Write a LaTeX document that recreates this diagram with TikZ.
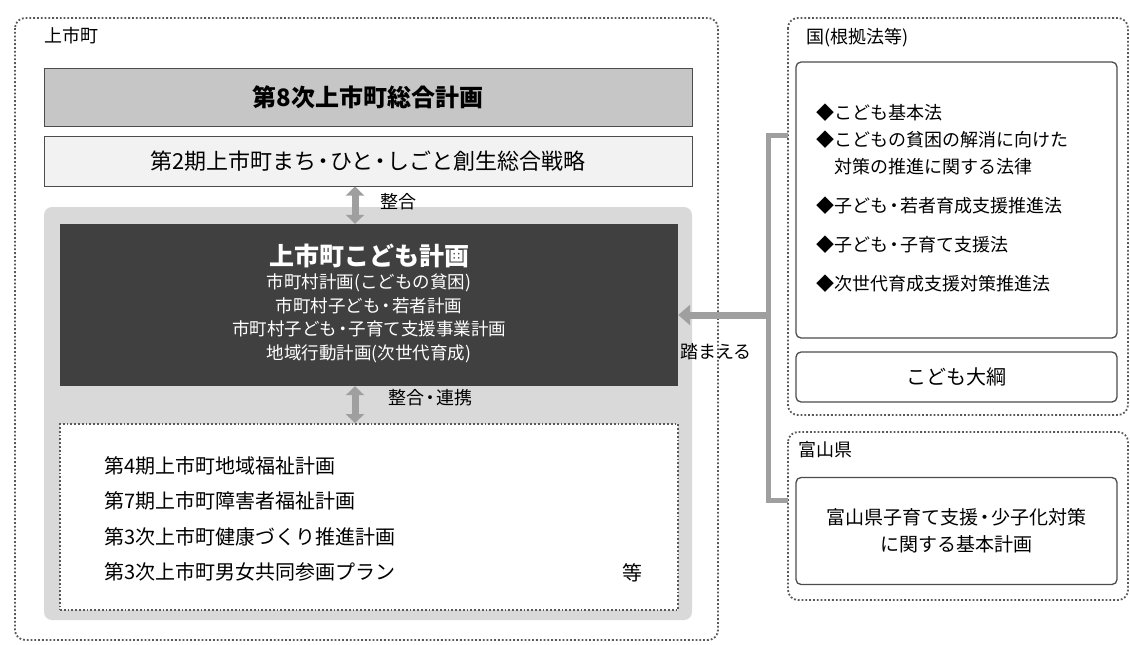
\documentclass[tikz,border=0pt]{standalone}
\usepackage{fontspec}
\setmainfont{Noto Sans CJK JP}
\usetikzlibrary{arrows.meta}
\tikzset{
 dotbox/.style={draw=gray!70!black,dotted,line width=1.8pt,rounded corners=10pt},
 solbox/.style={draw=gray!60!black,line width=1.3pt,rounded corners=5pt,fill=white},
 dbl/.style={draw=gray!75,line width=7pt,{Triangle[length=9pt,width=18pt]}-{Triangle[length=9pt,width=18pt]}},
 lbl/.style={inner sep=0pt,font=\fontsize{18}{20}\selectfont}
}
\begin{document}
\begin{tikzpicture}[x=1pt,y=-1pt]
\useasboundingbox (0,0) rectangle (1130,645);
\draw[dotbox] (15,18) rectangle (718,640);
\node[lbl,anchor=west] (t1) at (44,36) {上市町};
\node[draw=gray!60!black,line width=1pt,fill=gray!45,minimum width=648pt,minimum height=58pt,font=\bfseries\fontsize{24}{26}\selectfont] (b8) at (368,97) {第8次上市町総合計画};
\node[draw=gray!60!black,line width=1pt,fill=gray!10,minimum width=648pt,minimum height=50pt,font=\fontsize{22}{24}\selectfont] (b2) at (368,161) {第2期上市町まち\kern-4pt・\kern-4ptひと\kern-4pt・\kern-4ptしごと創生総合戦略};
\fill[gray!30,rounded corners=8pt] (44,207) rectangle (692,620);
\node[fill=black!75,minimum width=618pt,minimum height=162pt] (dk) at (369,305) {};
\node[text=white,font=\bfseries\fontsize{25}{28}\selectfont,inner sep=0pt] (dt) at (369,256) {上市町こども計画};
\node[text=white,font=\fontsize{17.5}{23.5}\selectfont,align=center,inner sep=0pt,anchor=north] (dl) at (369,274) {市町村計画(こどもの貧困)\\市町村子ども\kern-3pt・\kern-3pt若者計画\\市町村子ども\kern-3pt・\kern-3pt子育て支援事業計画\\地域行動計画(次世代育成)};
\node[draw=gray!70!black,dotted,line width=1.8pt,fill=white,minimum width=618pt,minimum height=186pt] (wb) at (369,517) {};
\node[align=left,anchor=west,font=\fontsize{20}{35.5}\selectfont,inner sep=0pt] (wl) at (104,519) {第4期上市町地域福祉計画\\第7期上市町障害者福祉計画\\第3次上市町健康づくり推進計画\\第3次上市町男女共同参画プラン};
\node[lbl,font=\fontsize{20}{22}\selectfont] (etc) at (632,573) {等};
\draw[dbl] (b2.south -| 355,0) -- (dk.north -| 355,0);
\node[lbl,anchor=west] (s1) at (380,202) {整合};
\draw[dbl] (dk.south -| 355,0) -- (wb.north -| 355,0);
\node[lbl,anchor=west] (s2) at (388,398) {整合\kern-3pt・\kern-3pt連携};
% right
\draw[dotbox] (788,18) rectangle (1128,415);
\node[lbl,anchor=west] (kt) at (806,38) {国(根拠法等)};
\node[solbox,minimum width=321pt,minimum height=276pt] (kb) at (956.5,200) {};
\node[anchor=north west,align=left,inner sep=0pt,font=\fontsize{18}{27}\selectfont] (kl) at (816,104) {◆こども基本法\\◆こどもの貧困の解消に向けた\\\phantom{◆}対策の推進に関する法律\\[12pt]◆子ども\kern-3pt・\kern-3pt若者育成支援推進法\\[12pt]◆子ども\kern-3pt・\kern-3pt子育て支援法\\[12pt]◆次世代育成支援対策推進法};
\node[solbox,minimum width=321pt,minimum height=50pt,font=\fontsize{20}{22}\selectfont] (ko) at (956.5,377) {こども大綱};
\draw[dotbox] (788,432) rectangle (1128,600);
\node[lbl,anchor=west] (tt) at (798,450) {富山県};
\node[solbox,minimum width=321pt,minimum height=107pt,align=center,font=\fontsize{19}{27}\selectfont] (tb) at (956.5,531) {富山県子育て支援\kern-3pt・\kern-3pt少子化対策\\に関する基本計画};
\coordinate (bt) at (788,135);
\coordinate (bb) at (788,500);
\coordinate (bm) at (768,315);
\draw[gray!75,line width=5pt] (bt) -- (768,135) -- (768,500) -- (bb);
\draw[gray!75,line width=7pt,-{Triangle[length=12pt,width=20pt]}] (bm) -- (dk.east |- bm);
\node[lbl] (fm) at (716,352) {踏まえる};
\end{tikzpicture}
\end{document}
